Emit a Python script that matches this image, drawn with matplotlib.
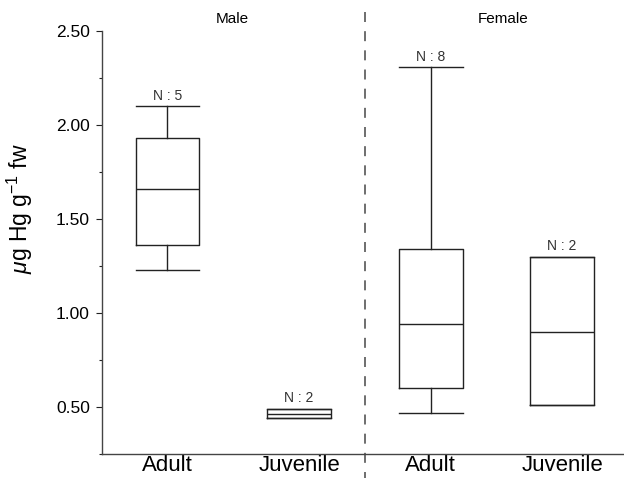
import numpy as np
import matplotlib
matplotlib.use("Agg")
from matplotlib import pyplot as plt
from matplotlib.ticker import MultipleLocator, FormatStrFormatter
import matplotlib.transforms as mtransforms

plt.rcParams['font.family'] = ['Liberation Sans', 'DejaVu Sans']
plt.rcParams['mathtext.fontset'] = 'custom'
plt.rcParams['mathtext.rm'] = 'Liberation Sans'
plt.rcParams['mathtext.it'] = 'Liberation Sans:italic'

# box statistics (ug Hg / g fw)
groups = ['Male', 'Female']
tick_labels = ['Adult', 'Juvenile', 'Adult', 'Juvenile']
n_counts = [5, 2, 8, 2]
whisker_low = [1.23, 0.44, 0.47, 0.51]
q1 = [1.36, 0.44, 0.60, 0.51]
medians = [1.66, 0.465, 0.94, 0.90]
q3 = [1.93, 0.49, 1.34, 1.30]
whisker_high = [2.10, 0.49, 2.31, 1.30]

line_col = '#222222'

fig = plt.figure(figsize=(6.24, 4.78), dpi=100)
ax = fig.add_axes([0.163, 0.0502, 0.837, 0.8843])

stats = []
for i in range(len(tick_labels)):
    stats.append({'whislo': whisker_low[i], 'q1': q1[i], 'med': medians[i],
                  'q3': q3[i], 'whishi': whisker_high[i], 'fliers': []})

positions = np.arange(1, len(tick_labels) + 1)
lp = dict(color=line_col, linewidth=1.0)
ax.bxp(stats, positions=positions, widths=0.485, capwidths=0.485, showfliers=False,
       boxprops=lp, medianprops=lp, whiskerprops=lp, capprops=lp)

for p, n, top in zip(positions, n_counts, whisker_high):
    ax.annotate('N : %d' % n, xy=(p, top), xytext=(0, 2.5), textcoords='offset points',
                ha='center', va='bottom', fontsize=10, color='#333333')

ax.set_xlim(0.5, 4.47)
ax.set_ylim(0.25, 2.5)
ax.yaxis.set_minor_locator(MultipleLocator(0.25))
ax.yaxis.set_major_formatter(FormatStrFormatter('%.2f'))
ax.set_yticks([0.5, 1.0, 1.5, 2.0, 2.5])
ax.tick_params(axis='y', which='major', length=4.5, width=0.8, labelsize=12.5,
               color=line_col, pad=4)
ax.tick_params(axis='y', which='minor', length=2.2, width=0.8, color=line_col)
ax.set_xticks(positions)
ax.set_xticklabels(tick_labels, fontsize=16)
ax.tick_params(axis='x', length=0, pad=1)

for side in ['top', 'right']:
    ax.spines[side].set_visible(False)
for side in ['left', 'bottom']:
    ax.spines[side].set_color('#444444')
    ax.spines[side].set_linewidth(1.0)

# separator between the two sexes
trans = mtransforms.blended_transform_factory(ax.transData, ax.transAxes)
ax.plot([2.5, 2.5], [1.045, -0.06], transform=trans, color='#555555',
        linewidth=1.2, dashes=(6, 5.5), clip_on=False)

ax.text(1.49, 1.012, groups[0], transform=trans, ha='center', va='bottom', fontsize=11)
ax.text(3.55, 1.012, groups[1], transform=trans, ha='center', va='bottom', fontsize=11)

ax.set_ylabel(r'$\mathit{\mu}$g Hg g$^{\mathregular{-1}}$ fw', fontsize=16.5)
ax.yaxis.set_label_coords(-0.127, 0.58)

fig.savefig('out.png', dpi=100)
